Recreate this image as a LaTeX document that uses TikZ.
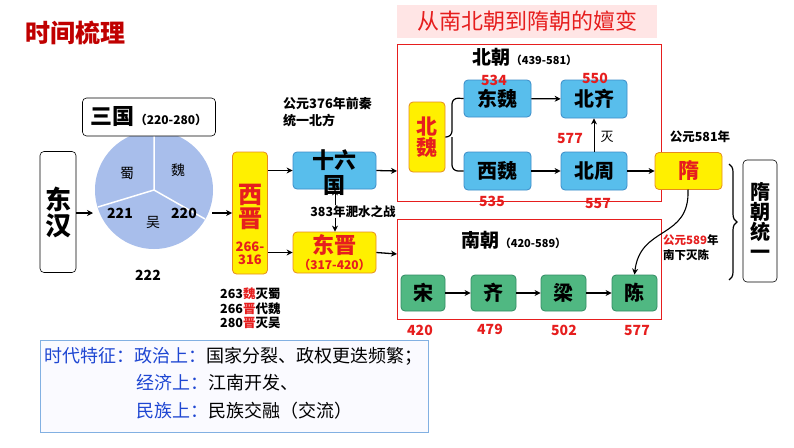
\documentclass[tikz,border=0pt]{standalone}
\usepackage{fontspec}
\setmainfont{Noto Sans CJK SC}
\usetikzlibrary{arrows.meta,decorations.pathreplacing}
\definecolor{dred}{RGB}{192,0,0}
\definecolor{tred}{RGB}{230,30,30}
\definecolor{pie}{RGB}{168,190,235}
\definecolor{bluebox}{RGB}{88,190,236}
\definecolor{bluebd}{RGB}{60,140,200}
\definecolor{greenbox}{RGB}{80,184,130}
\definecolor{greenbd}{RGB}{50,140,100}
\definecolor{ybox}{RGB}{255,240,0}
\definecolor{ybd}{RGB}{230,140,30}
\definecolor{tblue}{RGB}{30,70,210}
\newcommand{\fs}[1]{\fontsize{#1}{#1}\selectfont}
\begin{document}
\begin{tikzpicture}[x=1pt,y=-1pt,
  arr/.style={-{Stealth[length=6pt,width=6pt]},line width=1.3pt},
  wbox/.style={draw=black,line width=0.6pt,rounded corners=4pt,fill=white,inner sep=0pt},
  bbox/.style={draw=bluebd,line width=0.8pt,rounded corners=4pt,fill=bluebox,inner sep=0pt,font=\fs{20}\bfseries},
  gbox/.style={draw=greenbd,line width=0.8pt,rounded corners=4pt,fill=greenbox,inner sep=0pt,font=\fs{20}\bfseries},
  ybx/.style={draw=ybd,line width=0.8pt,rounded corners=4pt,fill=ybox,inner sep=0pt,text=tred,font=\bfseries},
  rnum/.style={text=tred,font=\fs{14}\bfseries,inner sep=0pt},
  lbl/.style={font=\fs{12.5}\bfseries,inner sep=0pt,align=left},
  frame/.style={draw=tred,line width=0.8pt}]
\useasboundingbox (0,0) rectangle (794,447);
\fill[white] (0,0) rectangle (794,447);
% titles
\node[text=dred,font=\fs{25}\bfseries,anchor=west] (t1) at (22,33) {时间梳理};
\fill[red!10] (397,5) rectangle (657,38);
\node[text=tred,font=\fs{22},inner sep=0pt] (t2) at (527,21) {从南北朝到隋朝的嬗变};
% Eastern Han
\node[wbox,minimum width=36pt,minimum height=121pt,font=\fs{26}\bfseries,align=center] (dh) at (58,212) {东\\汉};
% pie
\coordinate (pc) at (154,190);
\fill[pie] (pc) circle (59);
\draw[white,line width=1.5pt] (pc) -- ++(0,-59) (pc) -- (205,219) (pc) -- (98,207);
\node[font=\fs{14},inner sep=0pt] (shu) at (127,173) {蜀};
\node[font=\fs{14},inner sep=0pt] (wei) at (178,170) {魏};
\node[font=\fs{14},inner sep=0pt] (wu) at (153,222) {吴};
\node[font=\fs{14}\bfseries,inner sep=0pt] (n221) at (120,213) {221};
\node[font=\fs{14}\bfseries,inner sep=0pt] (n220) at (184,213) {220};
\node[font=\fs{14}\bfseries,inner sep=0pt] (n222) at (148,275) {222};
\coordinate (pl) at (93,213); \coordinate (pr) at (212,213);
\node[wbox,minimum width=133pt,minimum height=38pt] (sg) at (149,117) {\fs{22}\bfseries 三国\fs{12}\bfseries（220-280）};
\draw[arr] (dh.east |- pl) -- (pl);
% Western Jin
\node[ybx,minimum width=35pt,minimum height=122pt] (xj) at (250,213) {};
\node[text=tred,font=\fs{24}\bfseries,align=center,inner sep=0pt] (xjt) at (250,207) {西\\晋};
\node[text=tred,font=\fs{13}\bfseries,align=center,inner sep=0pt] (xjn) at (250,253) {266-\\316};
\draw[arr] (pr) -- (xj.west |- pr);
\node[lbl,anchor=north west,font=\fontsize{12.5}{14.5}\selectfont\bfseries] (ev) at (220,288) {263\textcolor{tred}{魏}灭蜀\\266\textcolor{tred}{晋}代魏\\280\textcolor{tred}{晋}灭吴};
\node[lbl,anchor=north west,font=\fontsize{13}{17}\selectfont\bfseries] (qin) at (283,97) {公元376年前秦\\统一北方};
% 16 kingdoms, Eastern Jin
\node[bbox,minimum width=83pt,minimum height=37pt] (slg) at (334.5,170.5) {};
\node[font=\fs{22}\bfseries,inner sep=0pt] (slgt1) at (334.5,160) {十六};
\node[font=\fs{22}\bfseries,inner sep=0pt] (slgt2) at (334.5,186) {国};
\node[ybx,minimum width=83pt,minimum height=41pt] (dj) at (334.5,252.5) {};
\node[text=tred,font=\fs{22}\bfseries,inner sep=0pt] (djt) at (334.5,245) {东晋};
\node[text=tred,font=\fs{12}\bfseries,inner sep=0pt] (djn) at (334.5,265) {（317-420）};
\node[font=\fs{12.5}\bfseries,inner sep=0pt] (fs) at (353,212) {383年淝水之战};
\coordinate (fsu) at (335,205); \coordinate (fsd) at (335,218);
\draw[arr,line width=1pt] (fsu) -- (slg.south -| fsu);
\draw[arr,line width=1pt] (fsd) -- (dj.north -| fsd);
\draw[arr] (xj.east |- slg) -- (slg.west);
\draw[arr] (xj.east |- dj) -- (dj.west);
% Northern dynasties
\draw[frame] (397,44) rectangle (661,201);
\node[inner sep=0pt] (bc) at (525,57) {\fs{19}\bfseries 北朝\fs{11}\bfseries（439-581）};
\coordinate (bcl) at (397,171); \coordinate (ncl) at (397,254);
\draw[arr] (slg.east) -- (bcl);
\draw[arr] (dj.east) -- (ncl);
\node[ybx,minimum width=36pt,minimum height=70pt,font=\fs{21}\bfseries,align=center] (bw) at (427,137) {北\\魏};
\node[bbox,minimum width=67pt,minimum height=37pt] (dw) at (497.5,98.5) {东魏};
\node[bbox,minimum width=66pt,minimum height=38pt] (bq) at (594,99) {北齐};
\node[bbox,minimum width=67pt,minimum height=38pt] (xw) at (497.5,171) {西魏};
\node[bbox,minimum width=66pt,minimum height=38pt] (bz) at (594,171) {北周};
\node[rnum] (n534) at (494,80) {534};
\node[rnum] (n550) at (595,78) {550};
\node[rnum] (n535) at (492,201) {535};
\node[rnum] (n557) at (598,204) {557};
\node[rnum] (n577a) at (570,139) {577};
\node[font=\fs{13},inner sep=0pt] (mie) at (607,137) {灭};
\draw[line width=1.2pt,rounded corners=6pt] (bw.east) -- (452,137) -- (452,98) -- (dw.west);
\draw[line width=1.2pt,rounded corners=6pt] (452,137) -- (452,171) -- (xw.west);
\draw[arr] (dw) -- (bq);
\draw[arr] (xw) -- (bz);
\draw[arr,line width=1pt] (bz) -- (bq);
% Sui
\node[ybx,minimum width=67pt,minimum height=37pt,font=\fs{21}\bfseries] (sui) at (688.5,171) {隋};
\draw[arr] (bz) -- (sui);
\node[font=\fs{12.5}\bfseries,inner sep=0pt] (y581) at (700,137) {公元581年};
% Southern dynasties
\draw[frame] (397,219) rectangle (661,319);
\node[inner sep=0pt] (nc) at (514,240) {\fs{19}\bfseries 南朝\fs{11}\bfseries（420-589）};
\node[gbox,minimum width=44pt,minimum height=36pt] (song) at (423,293) {宋};
\node[gbox,minimum width=45pt,minimum height=36pt] (qi) at (493.5,293) {齐};
\node[gbox,minimum width=45pt,minimum height=36pt] (liang) at (563.5,293) {梁};
\node[gbox,minimum width=45pt,minimum height=36pt] (chen) at (634.5,293) {陈};
\draw[arr] (song) -- (qi);
\draw[arr] (qi) -- (liang);
\draw[arr] (liang) -- (chen);
\node[rnum] (n420) at (420,330) {420};
\node[rnum] (n479) at (490,329) {479};
\node[rnum] (n502) at (564,330) {502};
\node[rnum] (n577b) at (637,331) {577};
\draw[arr,line width=1.1pt] (688,189.5) .. controls (690,240) and (640,225) .. (chen.north);
\node[lbl,font=\fontsize{11.5}{15}\selectfont\bfseries,anchor=west] (y589) at (663,248) {\textcolor{tred}{公元589}年\\南下灭陈};
% right brace and Sui unification
\draw[line width=1.2pt,decorate,decoration={brace,amplitude=8pt}] (729,164) -- (729,280);
\node[wbox,minimum width=34pt,minimum height=122pt,font=\fs{20}\bfseries,align=center] (sty) at (760,221) {隋\\朝\\统\\一};
% bottom
\draw[draw=cyan!60!blue!50,line width=1pt,fill=blue!2] (40,340) rectangle (428,432);
\node[anchor=west,font=\fs{18},inner sep=0pt] (l1) at (44,356) {\textcolor{tblue}{时代特征：政治上：}国家分裂、政权更迭频繁；};
\node[anchor=west,font=\fs{18},inner sep=0pt] (l2) at (136,383) {\textcolor{tblue}{经济上：}江南开发、};
\node[anchor=west,font=\fs{18},inner sep=0pt] (l3) at (136,411) {\textcolor{tblue}{民族上：}民族交融（交流）};
\end{tikzpicture}
\end{document}
